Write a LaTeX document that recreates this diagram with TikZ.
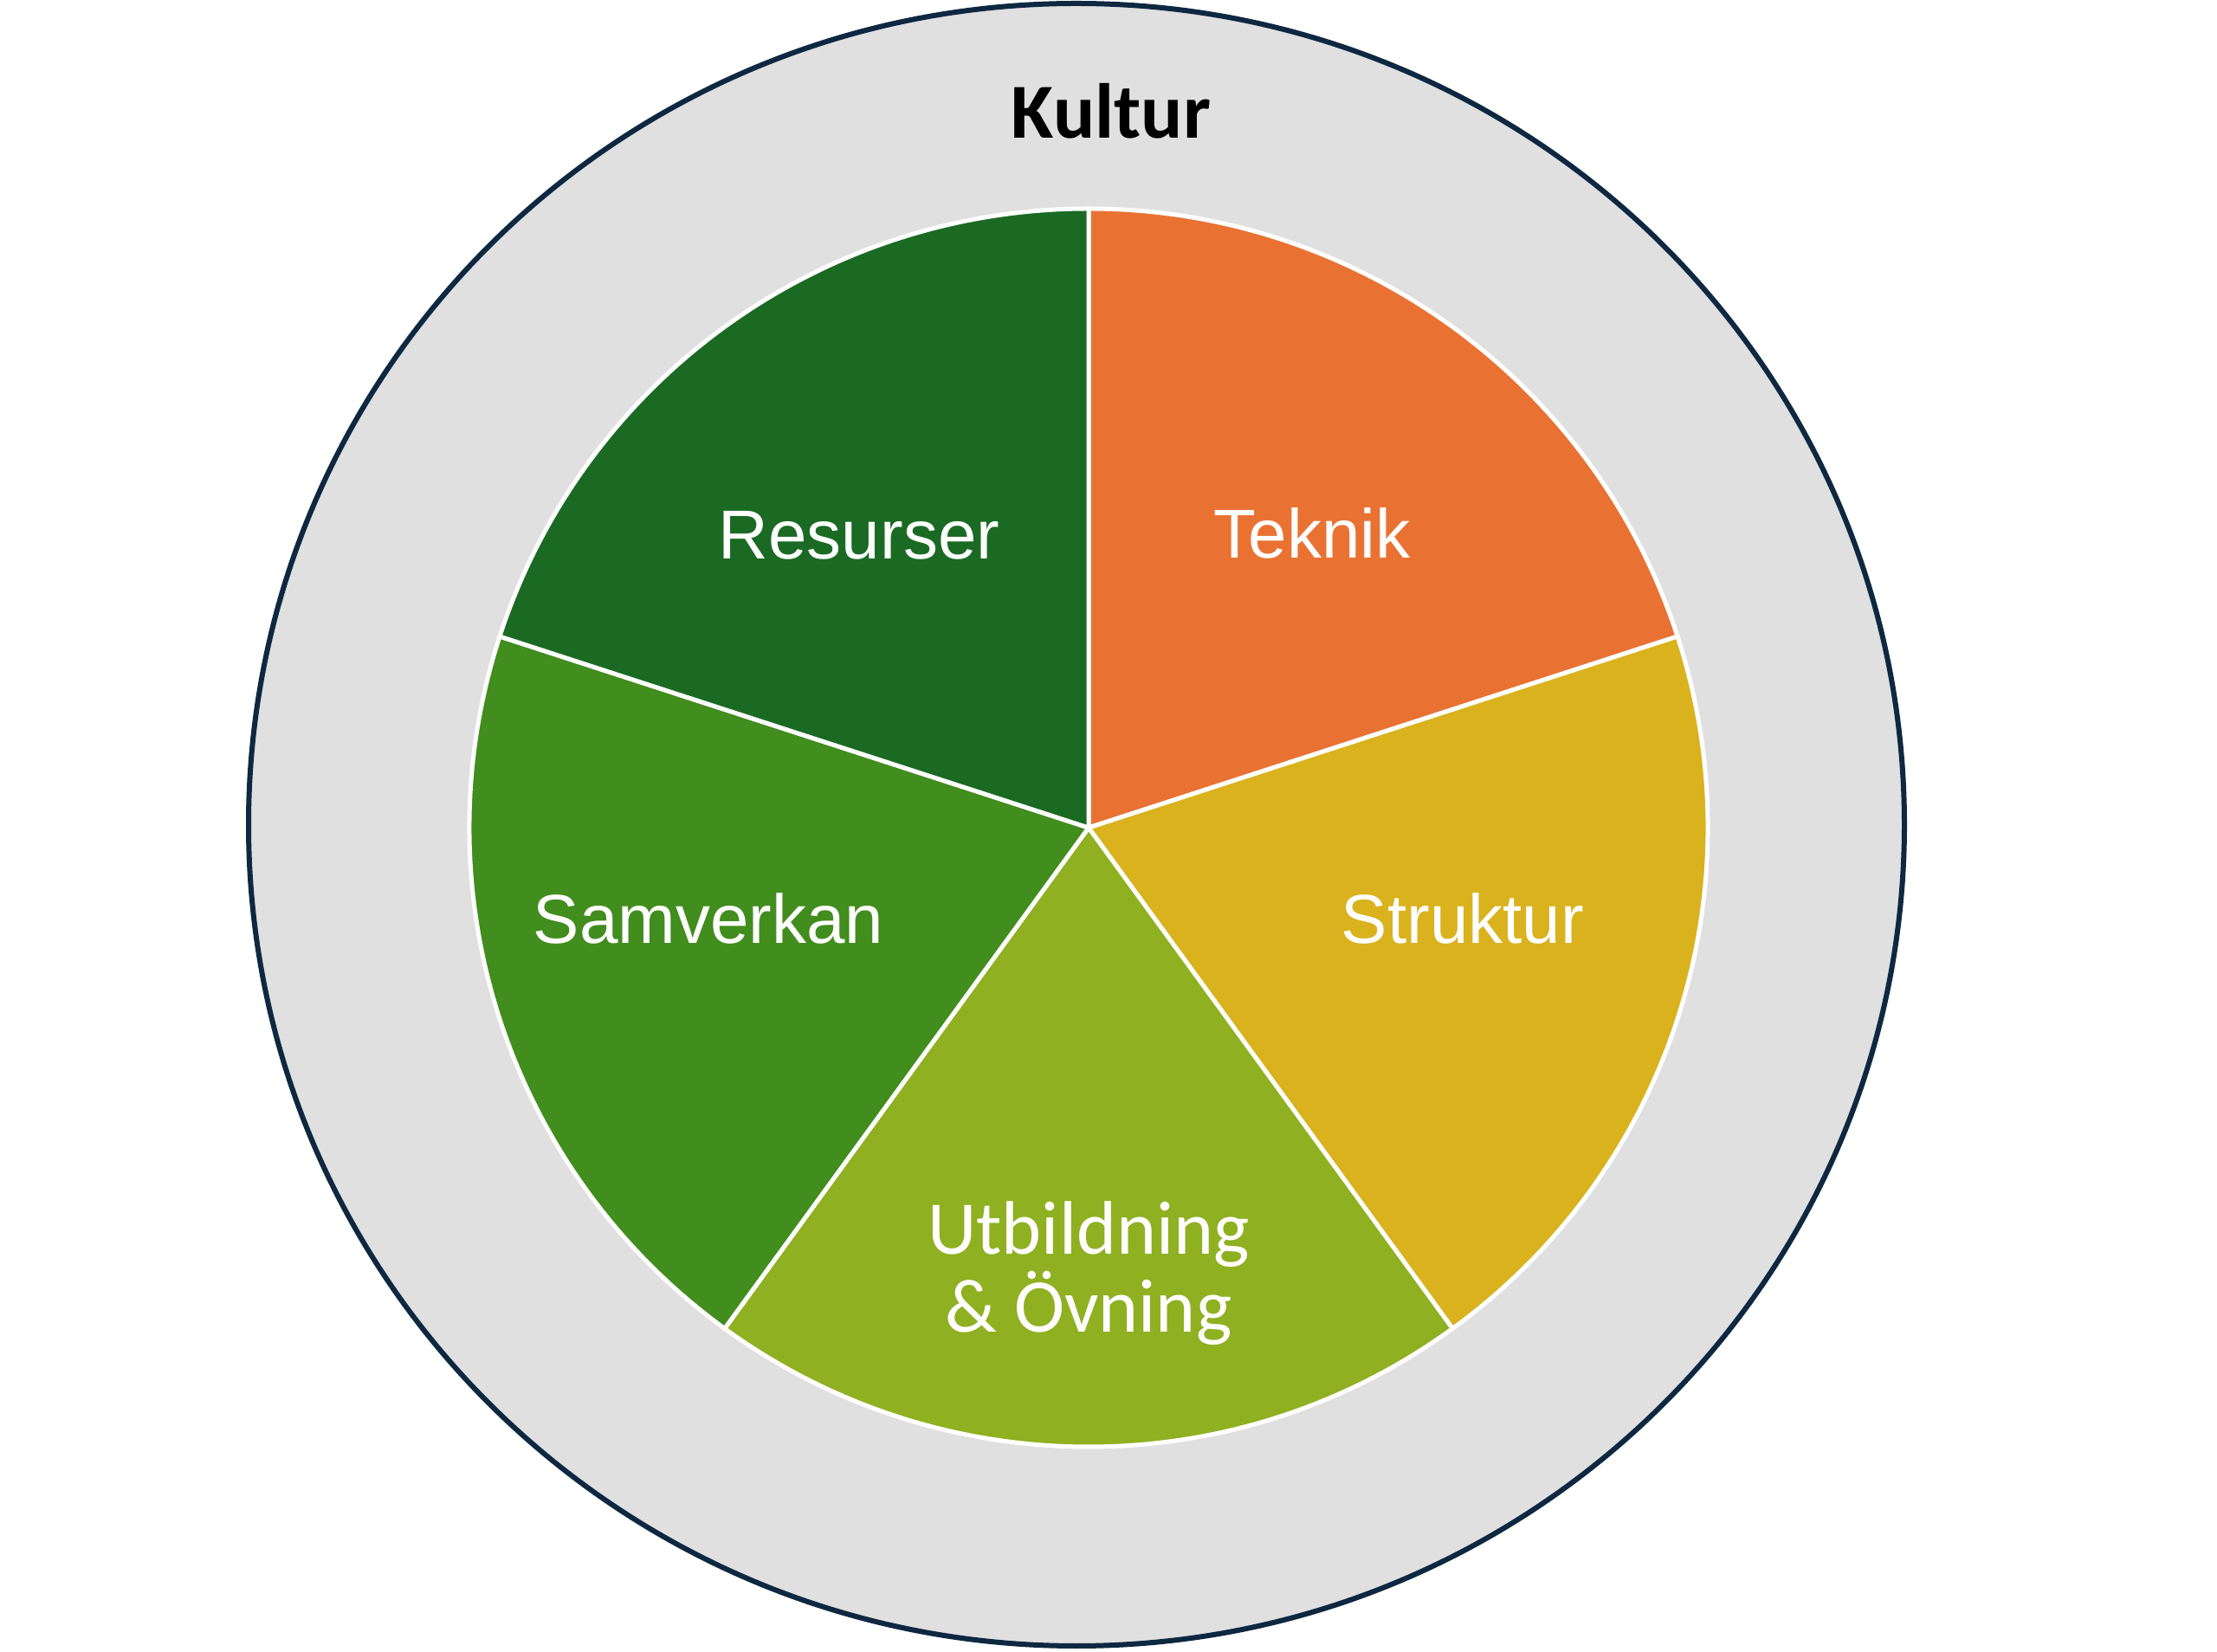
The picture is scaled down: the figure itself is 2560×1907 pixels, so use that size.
\documentclass[tikz,border=0pt]{standalone}
\usepackage{fontspec}
\setmainfont{Liberation Sans}
\newfontfamily\calfont{Carlito}
\definecolor{resurser}{HTML}{1B6A23}
\definecolor{samverkan}{HTML}{418D1D}
\definecolor{utbildning}{HTML}{8FB020}
\definecolor{struktur}{HTML}{D9B21E}
\definecolor{teknik}{HTML}{E97233}
\definecolor{kulturgray}{HTML}{E0E0E0}
\definecolor{kanten}{HTML}{0E2841}
\begin{document}
\begin{tikzpicture}[line cap=round, line join=round, x=0.3pt, y=0.3pt]
	\tikzset{lbl/.style={text=white, font=\fontsize{24}{28}\selectfont}}
	\useasboundingbox (0,0) rectangle (2560,1907);
	\path (1257,951) coordinate (O)
	(1243,954.5) coordinate (K);
	\draw[fill=kulturgray, draw=kanten, line width=1.8pt] (K) ellipse[x radius=956, y radius=948.5];
	\foreach \a/\c in {18/teknik,-54/struktur,-126/utbildning,162/samverkan,90/resurser}
		\fill[\c, draw=white, line width=1.5pt] (O) -- ++(\a:715) arc[start angle=\a, delta angle=72, radius=715] -- cycle;
	\node[font=\calfont\bfseries\fontsize{27}{30}\selectfont, anchor=base] (kultur) at (1283,1747) {Kultur};
	\node[lbl, anchor=base] (resurser) at (992,1261) {Resurser};
	\node[lbl, anchor=base] (teknik) at (1515,1262) {Teknik};
	\node[lbl, anchor=base] (samverkan) at (818,817) {Samverkan};
	\node[lbl, anchor=base] (struktur) at (1689,817) {Struktur};
	\node[lbl, font=\calfont\fontsize{26.3}{27}\selectfont, align=center] (utbildning) at (1257,436) {Utbildning\\\& Övning};
\end{tikzpicture}
\end{document}
